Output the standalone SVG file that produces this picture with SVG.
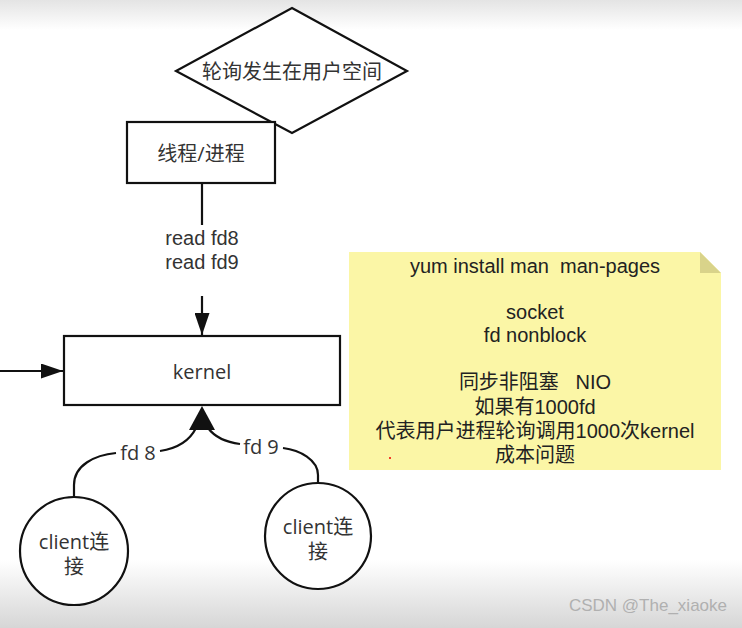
<svg xmlns="http://www.w3.org/2000/svg" width="742" height="628" viewBox="0 0 742 628">
<defs>
<linearGradient id="topg" x1="0" y1="0" x2="0" y2="1"><stop offset="0" stop-color="#e4e4e4"/><stop offset="1" stop-color="#ffffff"/></linearGradient>
<linearGradient id="botg" x1="0" y1="0" x2="0" y2="1"><stop offset="0" stop-color="#ffffff"/><stop offset="1" stop-color="#d6d6d6"/></linearGradient>
<marker id="ah" viewBox="0 0 22 15" refX="22" refY="7.5" markerWidth="22" markerHeight="15" markerUnits="userSpaceOnUse" orient="auto"><path d="M0,0 L22,7.5 L0,15 Z" fill="#111"/></marker>
<style>
.s{fill:#fff;stroke:#111;stroke-width:2.2}
.t{font-family:"Open Sans","Noto Sans CJK SC",sans-serif;font-size:20px;fill:#333;text-anchor:middle;dominant-baseline:central}
.r{font-family:"Liberation Sans","Noto Sans CJK SC",sans-serif;font-size:20px;fill:#333;text-anchor:middle;dominant-baseline:central}
.c{fill:none;stroke:#111;stroke-width:2.2}
.n{font-family:"Liberation Sans","Noto Sans CJK SC",sans-serif;font-size:20px;fill:#222;text-anchor:middle;dominant-baseline:central}
</style>
</defs>
<rect width="742" height="628" fill="#fff"/>
<rect width="742" height="30" fill="url(#topg)"/>
<rect y="560" width="742" height="68" fill="url(#botg)"/>

<g id="connectors">
<line class="c" x1="202" y1="183" x2="202" y2="225"/>
<line class="c" x1="202" y1="296" x2="202" y2="335" marker-end="url(#ah)"/>
<line class="c" x1="0" y1="371" x2="63" y2="371" marker-end="url(#ah)"/>
<path class="c" d="M74,497 L74,485 C74,465 95,455 116,453"/>
<path class="c" d="M160,451 C180,448 190,440 196,428"/>
<path class="c" d="M318,483 L318,475 C318,460 300,450 283,448"/>
<path class="c" d="M240,444 C224,442 214,436 208,428"/>
<path d="M202,406 L189,430 L215,430 Z" fill="#111"/>
<text class="r" x="202" y="238">read fd8</text>
<text class="r" x="202" y="262">read fd9</text>
<text class="t" x="138" y="452">fd 8</text>
<text class="t" x="261" y="446">fd 9</text>
</g>

<g id="diamond">
<polygon class="s" points="292,8 407,71 292,133 176,71"/>
<text class="t" x="292" y="71">轮询发生在用户空间</text>
</g>

<g id="process">
<rect class="s" x="127" y="122" width="148" height="61"/>
<text class="t" x="201" y="153">线程/进程</text>
</g>

<g id="kernel">
<rect class="s" x="64" y="336" width="276" height="69"/>
<text class="t" x="202" y="371">kernel</text>
</g>

<g id="client1">
<circle class="s" cx="74" cy="551" r="54"/>
<text class="t" x="74" y="541">client连</text>
<text class="t" x="74" y="566">接</text>
</g>

<g id="client2">
<circle class="s" cx="318" cy="536" r="53"/>
<text class="t" x="318" y="526">client连</text>
<text class="t" x="318" y="551">接</text>
</g>

<g id="note">
<path d="M349,252 L700,252 L721,273 L721,470 L349,470 Z" fill="#fbf6a6"/>
<path d="M700,252 L700,273 L721,273 Z" fill="#d9d38a"/>
<text class="n" x="535" y="266" xml:space="preserve">yum install man  man-pages</text>
<text class="n" x="535" y="312">socket</text>
<text class="n" x="535" y="335">fd nonblock</text>
<text class="n" x="535" y="382" xml:space="preserve">同步非阻塞   NIO</text>
<text class="n" x="535" y="407">如果有1000fd</text>
<text class="n" x="535" y="431">代表用户进程轮询调用1000次kernel</text>
<text class="n" x="535" y="455">成本问题</text>
<circle cx="390" cy="458" r="1" fill="#e00"/>
</g>

<text x="727" y="611" font-family="Liberation Sans, sans-serif" font-size="17" fill="#b0b0b0" text-anchor="end">CSDN @The_xiaoke</text>
</svg>
